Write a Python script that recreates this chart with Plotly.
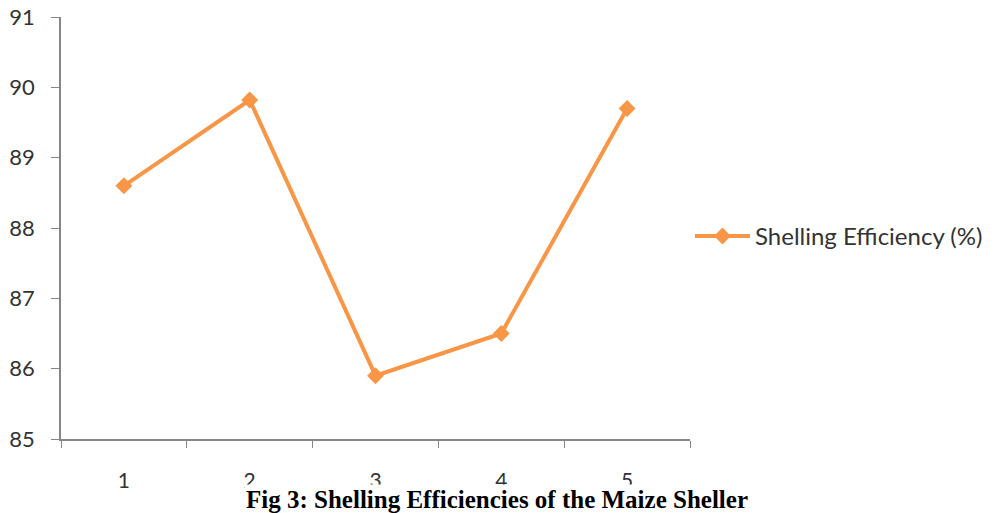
import plotly.graph_objects as go

categories = ["1", "2", "3", "4", "5"]
efficiency = [88.6, 89.82, 85.9, 86.5, 89.7]
series_name = "Shelling Efficiency (%)"
caption = "Fig 3: Shelling Efficiencies of the Maize Sheller"

fig = go.Figure()
fig.add_trace(go.Scatter(
    x=categories, y=efficiency, name=series_name, mode="lines+markers",
    line=dict(color="#F79646", width=4),
    marker=dict(symbol="diamond", size=13, color="#F79646"),
))

axis_color = "#868686"
fig.update_layout(
    width=994, height=513,
    margin=dict(l=53, r=312, t=9, b=82, autoexpand=False),
    paper_bgcolor="white", plot_bgcolor="white",
    font=dict(family="Lato, Open Sans, sans-serif", color="#333333"),
    showlegend=True,
    legend=dict(x=1.0, y=0.48, xanchor="left", yanchor="middle",
                font=dict(size=24, color="#333333"), itemwidth=55),
    xaxis=dict(type="category", showline=True, linecolor=axis_color, linewidth=1.5,
               ticks="outside", tickson="boundaries", ticklen=7, tickcolor=axis_color,
               showgrid=False, tickfont=dict(size=21, color="#333333"),
               ticklabelstandoff=22, range=[-0.5, 4.5], automargin=False),
    yaxis=dict(range=[85, 91], dtick=1, showline=True, linecolor=axis_color, linewidth=1.5,
               ticks="outside", ticklen=8, tickcolor=axis_color, showgrid=False,
               zeroline=False, tickfont=dict(size=22, color="#333333"),
               ticklabelstandoff=12, automargin=False, ticklabeloverflow="allow"),
    annotations=[dict(
        text="<b>" + caption + "</b>", xref="paper", yref="paper",
        x=0.693, y=-0.1445, xanchor="center", yanchor="middle", showarrow=False,
        font=dict(family="Liberation Serif, Times New Roman, serif", size=25, color="black"),
        bgcolor="white", borderpad=1,
    )],
)

fig.write_html("out.html")
